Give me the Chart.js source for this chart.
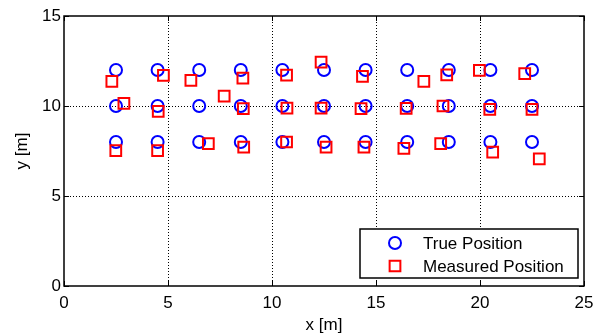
<!DOCTYPE html>
<html><head><meta charset="utf-8">
<script src="https://cdn.jsdelivr.net/npm/chart.js@4"></script>
<style>html,body{margin:0;padding:0;background:#fff}#wrap{width:602px;height:334px}</style>
</head><body><div id="wrap"><canvas id="c" width="602" height="334"></canvas></div>
<script>
const xTicks = [0, 5, 10, 15, 20, 25];
const yTicks = [0, 5, 10, 15];
const seriesNames = ['True Position', 'Measured Position'];
const trueX = [2.5, 4.5, 6.5, 8.5, 10.5, 12.5, 14.5, 16.5, 18.5, 20.5, 22.5,
               2.5, 4.5, 6.5, 8.5, 10.5, 12.5, 14.5, 16.5, 18.5, 20.5, 22.5,
               2.5, 4.5, 6.5, 8.5, 10.5, 12.5, 14.5, 16.5, 18.5, 20.5, 22.5];
const trueY = [12, 12, 12, 12, 12, 12, 12, 12, 12, 12, 12,
               10, 10, 10, 10, 10, 10, 10, 10, 10, 10, 10,
               8, 8, 8, 8, 8, 8, 8, 8, 8, 8, 8];
const measX = [2.3, 4.78, 6.1, 8.6, 10.7, 12.36, 14.35, 17.3, 18.4, 19.97, 22.15,
               2.88, 4.53, 7.7, 8.62, 10.72, 12.36, 14.28, 16.45, 18.22, 20.47, 22.5,
               2.49, 4.5, 6.94, 8.64, 10.7, 12.6, 14.42, 16.34, 18.11, 20.61, 22.85];
const measY = [11.37, 11.7, 11.43, 11.55, 11.72, 12.44, 11.65, 11.37, 11.73, 11.98, 11.8,
               10.15, 9.7, 10.55, 9.85, 9.88, 9.88, 9.86, 9.87, 10.0, 9.81, 9.81,
               7.52, 7.52, 7.91, 7.72, 8.0, 7.72, 7.72, 7.64, 7.91, 7.44, 7.06];

const FAM = '"Liberation Sans", Arial, sans-serif';
const FONT = {family: FAM, size: 17};

const boxPlugin = {
  id: 'box',
  afterDatasetsDraw(chart) {
    const {ctx, chartArea: a, scales} = chart;
    ctx.save();
    ctx.strokeStyle = '#000';
    ctx.lineWidth = 1.5;
    ctx.setLineDash([]);
    ctx.strokeRect(a.left, a.top, a.right - a.left, a.bottom - a.top);
    ctx.lineWidth = 1;
    const tl = 5;
    xTicks.forEach(v => {
      const px = Math.round(scales.x.getPixelForValue(v)) + 0.5;
      ctx.beginPath();
      ctx.moveTo(px, a.bottom); ctx.lineTo(px, a.bottom - tl);
      ctx.moveTo(px, a.top); ctx.lineTo(px, a.top + tl);
      ctx.stroke();
    });
    yTicks.forEach(v => {
      const py = Math.round(scales.y.getPixelForValue(v)) + 0.5;
      ctx.beginPath();
      ctx.moveTo(a.left, py); ctx.lineTo(a.left + tl, py);
      ctx.moveTo(a.right, py); ctx.lineTo(a.right - tl, py);
      ctx.stroke();
    });
    // legend
    const lx = 360, ly = 229, lw = 218, lh = 49;
    ctx.fillStyle = '#fff';
    ctx.fillRect(lx, ly, lw, lh);
    ctx.strokeStyle = '#000';
    ctx.lineWidth = 1.5;
    ctx.strokeRect(lx, ly, lw, lh);
    const ds = chart.data.datasets;
    const rows = [ly + 14, ly + 37];
    [0, 1].forEach(i => {
      const d = ds[i];
      ctx.fillStyle = 'rgba(0,0,0,0)';
      ctx.strokeStyle = d.borderColor;
      ctx.lineWidth = d.borderWidth;
      Chart.helpers.drawPoint(ctx, {
        pointStyle: d.pointStyle, radius: d.pointRadius, borderWidth: d.borderWidth
      }, 395, rows[i]);
      ctx.fillStyle = '#000';
      ctx.font = '17px ' + FAM;
      ctx.textBaseline = 'middle';
      ctx.textAlign = 'left';
      ctx.fillText(d.label, 423, rows[i] + 1);
    });
    ctx.restore();
  }
};

const ctx = document.getElementById('c').getContext('2d');
new Chart(ctx, {
  type: 'scatter',
  data: {
    datasets: [
      {label: seriesNames[0], data: trueX.map((x, i) => ({x, y: trueY[i]})),
       pointStyle: 'circle', pointRadius: 6, pointHoverRadius: 6, borderWidth: 2,
       borderColor: '#0000ff', backgroundColor: 'rgba(0,0,0,0)', order: 2},
      {label: seriesNames[1], data: measX.map((x, i) => ({x, y: measY[i]})),
       pointStyle: 'rect', pointRadius: 7.6, pointHoverRadius: 7.6, borderWidth: 2,
       borderColor: '#ff0000', backgroundColor: 'rgba(0,0,0,0)', order: 1}
    ]
  },
  options: {
    responsive: false,
    animation: false,
    devicePixelRatio: 1,
    layout: {padding: {top: 16, right: 18, left: 0, bottom: 0}},
    plugins: {legend: {display: false}, tooltip: {enabled: false}},
    scales: {
      x: {
        type: 'linear', min: 0, max: 25,
        afterBuildTicks: s => { s.ticks = xTicks.map(v => ({value: v})); },
        afterFit: s => { s.height = 48; },
        ticks: {font: FONT, color: '#000', padding: 7, maxRotation: 0},
        grid: {drawTicks: false, color: c => (c.tick && (c.tick.value === 0 || c.tick.value === 25)) ? 'rgba(0,0,0,0)' : '#000', lineWidth: 1},
        border: {display: false, dash: [1, 2]},
        title: {display: true, text: 'x [m]', font: FONT, color: '#000', padding: {top: 0, bottom: -2}}
      },
      y: {
        type: 'linear', min: 0, max: 15,
        afterBuildTicks: s => { s.ticks = yTicks.map(v => ({value: v})); },
        afterFit: s => { s.width = 64; },
        ticks: {font: FONT, color: '#000', padding: 3},
        grid: {drawTicks: false, color: c => (c.tick && (c.tick.value === 0 || c.tick.value === 15)) ? 'rgba(0,0,0,0)' : '#000', lineWidth: 1},
        border: {display: false, dash: [1, 2]},
        title: {display: true, text: 'y [m]', font: FONT, color: '#000', padding: {top: 12, bottom: 0}}
      }
    }
  },
  plugins: [boxPlugin]
});
</script>
</body></html>
